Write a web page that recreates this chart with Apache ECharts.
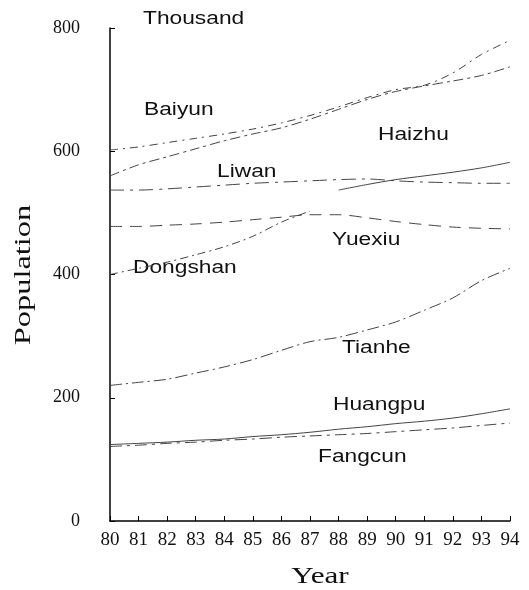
<!DOCTYPE html>
<html>
<head>
<meta charset="utf-8">
<script src="https://cdn.jsdelivr.net/npm/echarts@6/dist/echarts.min.js"></script>
<style>
  html, body { margin: 0; padding: 0; background: #fff; }
  #chart { width: 529px; height: 590px; }
</style>
</head>
<body>
<div id="chart"></div>
<script>
// Population of Guangzhou districts, thousands, 1980-1994
const years = [80, 81, 82, 83, 84, 85, 86, 87, 88, 89, 90, 91, 92, 93, 94];
const yTicks = [0, 200, 400, 600, 800];

const baiyun  = [602, 607, 614, 621, 628, 636, 646, 658, 672, 687, 700, 707, 727, 757, 780];
const haizhu  = [560, 578, 591, 604, 617, 628, 638, 652, 668, 684, 697, 706, 714, 723, 737];
const liwan   = [537, 537, 539, 542, 545, 548, 550, 552, 554, 555, 552, 550, 549, 548, 548];
const yuexiu  = [478, 478, 480, 482, 485, 489, 493, 497, 497, 492, 486, 481, 477, 475, 474];
const dongshanYearsA = [80, 81, 82, 83, 84, 85, 86, 87];
const dongshanA = [400, 410, 420, 432, 445, 462, 485, 503];
const dongshanYearsB = [88, 89, 90, 91, 92, 93, 94];
const dongshanB = [537, 546, 554, 560, 566, 573, 582];
const tianhe  = [220, 225, 230, 240, 250, 262, 277, 291, 298, 310, 323, 342, 362, 390, 410];
const huangpu = [124, 126, 128, 131, 133, 137, 140, 144, 149, 153, 158, 162, 167, 174, 182];
const fangcun = [121, 123, 126, 128, 131, 133, 136, 138, 140, 142, 145, 148, 151, 155, 159];

const pairs = (xs, vs) => xs.map((x, i) => [x, vs[i]]);

const LINE = '#444';
function lineSeries(name, data, dash, width) {
  return {
    name: name,
    type: 'line',
    data: data,
    symbol: 'none',
    smooth: 0.3,
    silent: true,
    lineStyle: { color: LINE, width: width || 1, type: dash }
  };
}

const sans = 'Liberation Sans, Arial, sans-serif';
const serif = 'Liberation Serif, Times New Roman, serif';

function label(text, x, y) {
  return {
    type: 'text', x: x, y: y, scaleX: 1.3, silent: true,
    style: { text: text, font: '17.5px ' + sans, fill: '#111',
             textAlign: 'left', textVerticalAlign: 'middle' }
  };
}

const chart = echarts.init(document.getElementById('chart'), null, { renderer: 'canvas' });
chart.setOption({
  animation: false,
  backgroundColor: '#fff',
  grid: { left: 110, right: 19, top: 28, bottom: 69, containLabel: false },
  xAxis: {
    type: 'value', min: 80, max: 94, interval: 1,
    axisLine: { lineStyle: { color: '#000', width: 1.5 } },
    axisTick: { inside: true, length: 5, lineStyle: { color: '#000' } },
    axisLabel: { color: '#111', fontFamily: serif, fontSize: 19, margin: 10 },
    splitLine: { show: false }
  },
  yAxis: {
    type: 'value', min: yTicks[0], max: yTicks[yTicks.length - 1], interval: 200,
    axisLine: { show: true, lineStyle: { color: '#000', width: 1.5 } },
    axisTick: { show: true, inside: true, length: 5, lineStyle: { color: '#000' } },
    axisLabel: { color: '#111', fontFamily: serif, fontSize: 18, margin: 30 },
    splitLine: { show: false }
  },
  series: [
    lineSeries('Baiyun', pairs(years, baiyun), [8, 5, 2, 5]),
    lineSeries('Haizhu', pairs(years, haizhu), [10, 4, 3, 4]),
    lineSeries('Liwan', pairs(years, liwan), [14, 6, 3, 6]),
    lineSeries('Yuexiu', pairs(years, yuexiu), [12, 8]),
    lineSeries('Dongshan', pairs(dongshanYearsA, dongshanA), [8, 4, 2, 4]),
    lineSeries('Dongshan', pairs(dongshanYearsB, dongshanB), 'solid'),
    lineSeries('Tianhe', pairs(years, tianhe), [12, 4, 2, 4]),
    lineSeries('Huangpu', pairs(years, huangpu), 'solid'),
    lineSeries('Fangcun', pairs(years, fangcun), [12, 5, 3, 5])
  ],
  graphic: [
    label('Thousand', 143, 19),
    label('Baiyun', 144, 110),
    label('Haizhu', 378, 135),
    label('Liwan', 217, 172),
    label('Yuexiu', 332, 240),
    label('Dongshan', 133, 268),
    label('Tianhe', 342, 348),
    label('Huangpu', 333, 405),
    label('Fangcun', 318, 457),
    {
      type: 'text', x: 320, y: 577, scaleX: 1.3, silent: true,
      style: { text: 'Year', font: '24px ' + serif, fill: '#111',
               textAlign: 'center', textVerticalAlign: 'middle' }
    },
    {
      type: 'text', x: 24, y: 275, rotation: Math.PI / 2, scaleX: 1.35, silent: true,
      style: { text: 'Population', font: '24px ' + serif, fill: '#111',
               textAlign: 'center', textVerticalAlign: 'middle' }
    }
  ]
});
</script>
</body>
</html>
